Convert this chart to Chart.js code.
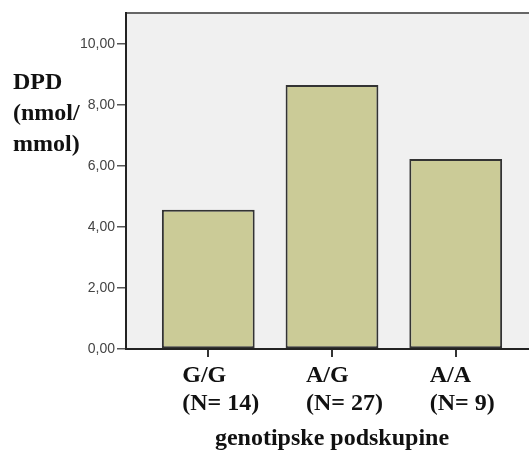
<!DOCTYPE html>
<html>
<head>
<meta charset="utf-8">
<script src="https://cdn.jsdelivr.net/npm/chart.js@4/dist/chart.umd.min.js"></script>
<style>
  html, body { margin: 0; padding: 0; background: #fff; overflow: hidden; width: 529px; height: 451px; }
  canvas { display: block; }
</style>
</head>
<body>
<canvas id="dpdChart" width="545" height="451"></canvas>
<script>
// data (SPSS style mean bar chart)
const categories = ["G/G", "A/G", "A/A"];
const groupSizes = ["(N= 14)", "(N= 27)", "(N= 9)"];
const dpdMeans = [4.57, 8.66, 6.23];
const yTickValues = [0, 2, 4, 6, 8, 10];
const yTitleLines = ["DPD", "(nmol/", "mmol)"];
const xTitle = "genotipske podskupine";

const serif = "'Liberation Serif', 'Times New Roman', serif";
const sans = "'Liberation Sans', Arial, sans-serif";

// grey plot background + top frame line, and the horizontal y title
const frame = {
  id: "frame",
  beforeDraw(chart) {
    const { ctx, chartArea: a } = chart;
    ctx.save();
    ctx.fillStyle = "#f0f0f0";
    ctx.fillRect(a.left, a.top, a.right - a.left, a.bottom - a.top);
    ctx.strokeStyle = "#666";
    ctx.lineWidth = 2;
    ctx.beginPath();
    ctx.moveTo(a.left, a.top);
    ctx.lineTo(a.right + 10, a.top);
    ctx.stroke();
    ctx.restore();
  },
  afterDraw(chart) {
    const { ctx } = chart;
    ctx.save();
    ctx.font = "bold 24px " + serif;
    ctx.fillStyle = "#111";
    ctx.textBaseline = "middle";
    ctx.textAlign = "left";
    yTitleLines.forEach((t, i) => ctx.fillText(t, 13, 83 + i * 31));
    ctx.restore();
  }
};

new Chart(document.getElementById("dpdChart"), {
  type: "bar",
  data: {
    datasets: [{
      label: "DPD",
      data: categories.map((c, i) => ({ x: i, y: dpdMeans[i] })),
      backgroundColor: "#cbcb97",
      borderColor: "#333",
      borderWidth: 2,
      borderSkipped: false,
      categoryPercentage: 1,
      barPercentage: 0.75
    }]
  },
  options: {
    responsive: false,
    animation: false,
    layout: { padding: { top: 13, right: 7, left: 0, bottom: 0 } },
    plugins: { legend: { display: false }, tooltip: { enabled: false } },
    scales: {
      x: {
        type: "linear",
        offset: false,
        min: -0.665,
        max: 2.665,
        afterBuildTicks: (s) => { s.ticks = categories.map((c, i) => ({ value: i })); },
        afterFit: (s) => { s.height = 102; },
        grid: { offset: false, drawOnChartArea: false, drawTicks: true, tickLength: 8, color: "#333", lineWidth: 2 },
        border: { display: true, color: "#222", width: 2 },
        ticks: {
          autoSkip: false,
          maxRotation: 0,
          align: "start",
          labelOffset: -26,
          padding: 4,
          color: "#111",
          font: { family: serif, size: 24, weight: "bold", lineHeight: 1.2 },
          callback: (v) => [categories[v], groupSizes[v]]
        },
        title: {
          display: true,
          text: xTitle,
          color: "#111",
          padding: 0,
          font: { family: serif, size: 24, weight: "bold", lineHeight: 1 }
        }
      },
      y: {
        min: 0,
        max: 11.02,
        afterBuildTicks: (s) => { s.ticks = yTickValues.map((v) => ({ value: v })); },
        afterFit: (s) => { s.width = 126; },
        grid: { drawOnChartArea: false, drawTicks: true, tickLength: 9, color: "#555", lineWidth: 1.5 },
        border: { display: true, color: "#222", width: 2 },
        ticks: {
          padding: 2,
          color: "#444",
          font: { family: sans, size: 14 },
          callback: (v) => v.toFixed(2).replace(".", ",")
        }
      }
    }
  },
  plugins: [frame]
});
</script>
</body>
</html>
